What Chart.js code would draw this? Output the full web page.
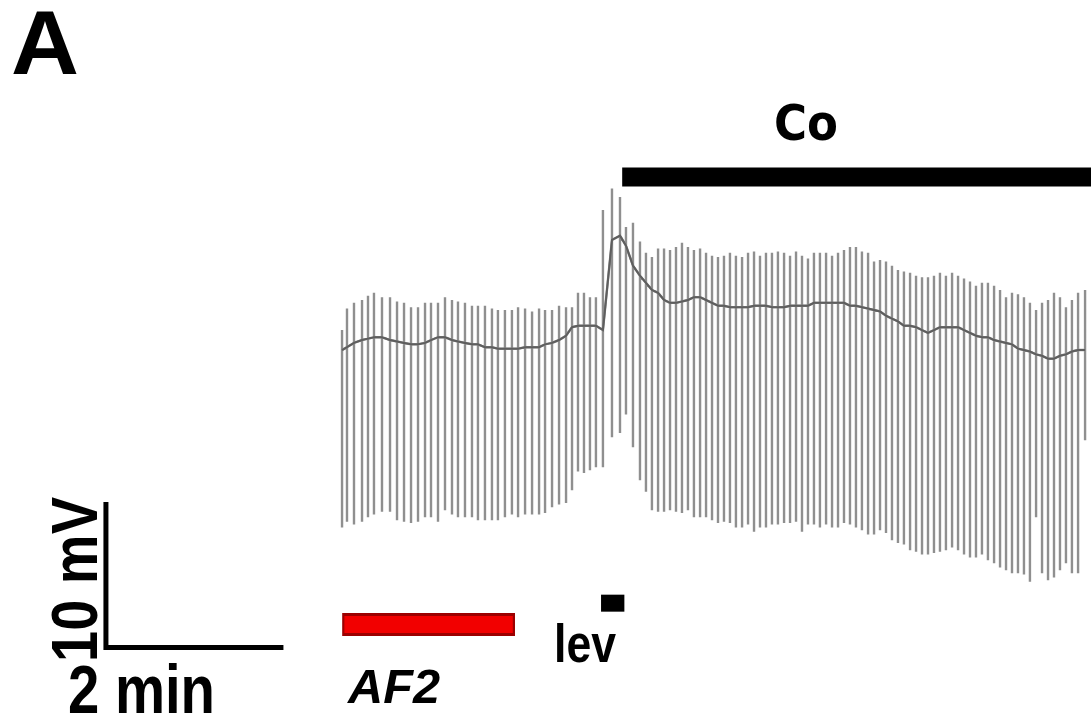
<!DOCTYPE html>
<html>
<head>
<meta charset="utf-8">
<title>AF2 / lev / Co membrane potential trace</title>
<script src="https://cdn.jsdelivr.net/npm/chart.js@4.4.0/dist/chart.umd.min.js"></script>
<style>
    html, body { margin: 0; padding: 0; background: #fff; }
    #wrap { position: relative; width: 1091px; height: 723px; }
</style>
</head>
<body>
<div id="wrap"><canvas id="trace" width="1091" height="723"></canvas></div>
<script>
/* Intracellular recording — AF2, lev, then Co */

// --- Data: time in s (0 = AF2 onset), membrane potential in mV ---

const spikeTimes = [
    1.4, 4.8, 9.6, 15.1, 19.2, 23.3, 28.8, 34.3, 39.1, 43.9,
    48.7, 53.5, 58.3, 62.4, 67.2, 72.0, 76.8, 80.9, 85.7, 90.5,
    94.6, 99.4, 104.2, 108.3, 113.1, 117.9, 122.1, 126.9, 131.7, 136.5,
    140.6, 145.4, 150.2, 155.0, 159.1, 163.2, 167.3, 171.4, 175.5, 180.3,
    186.5, 192.0, 196.1, 200.9, 205.7, 209.8, 213.9, 218.1, 222.2, 226.3,
    230.4, 234.5, 238.6, 242.7, 246.9, 251.0, 255.1, 259.2, 263.3, 267.4,
    271.5, 275.7, 279.8, 283.9, 288.0, 292.1, 296.2, 300.3, 304.5, 308.6,
    312.7, 316.8, 320.9, 325.0, 329.1, 333.3, 337.4, 341.5, 345.6, 349.7,
    353.8, 357.9, 362.1, 366.2, 370.3, 374.4, 378.5, 382.6, 386.7, 390.9,
    395.0, 399.1, 403.2, 407.3, 411.4, 415.5, 419.7, 423.8, 427.9, 432.0,
    436.1, 440.2, 444.3, 448.5, 452.6, 456.7, 460.8, 464.9, 469.0, 473.1,
    477.3, 481.4, 485.5, 489.6, 493.7, 497.8, 501.9, 506.1, 510.9
];

const spikePeaks = [
    -44.3, -42.8, -42.4, -42.2, -41.9, -41.7, -42.0, -42.0, -42.3, -42.4,
    -42.7, -42.7, -42.4, -42.4, -42.4, -42.0, -42.2, -42.3, -42.4, -42.6,
    -42.6, -42.6, -42.8, -42.9, -42.9, -42.9, -42.7, -42.8, -43.0, -42.8,
    -42.9, -42.9, -42.6, -42.7, -42.7, -41.7, -41.7, -42.0, -42.0, -35.9,
    -34.4, -35.0, -37.1, -36.8, -38.1, -38.9, -39.2, -38.6, -38.6, -38.7,
    -38.5, -38.2, -38.5, -38.7, -38.6, -38.9, -39.1, -39.2, -39.1, -38.9,
    -39.1, -39.2, -38.9, -38.8, -39.1, -38.9, -38.9, -38.8, -38.9, -39.1,
    -38.8, -39.1, -39.3, -38.9, -38.9, -38.9, -39.1, -38.9, -38.7, -38.5,
    -38.5, -38.8, -38.9, -39.5, -39.4, -39.5, -39.8, -40.1, -40.2, -40.3,
    -40.5, -40.6, -40.6, -40.5, -40.3, -40.5, -40.3, -40.5, -40.7, -40.9,
    -41.2, -41.0, -41.0, -41.2, -41.5, -42.0, -41.7, -41.8, -42.0, -42.4,
    -42.9, -42.4, -42.2, -41.7, -42.0, -42.7, -42.2, -41.7, -41.5
];

const spikeTroughs = [
    -58.1, -57.7, -57.9, -57.7, -57.4, -57.2, -57.0, -57.0, -57.6, -57.7,
    -57.8, -57.7, -57.4, -57.4, -57.7, -56.9, -57.2, -57.4, -57.4, -57.4,
    -57.6, -57.6, -57.6, -57.6, -57.4, -57.2, -57.4, -57.2, -57.2, -57.2,
    -57.1, -56.7, -56.5, -56.4, -55.5, -54.2, -54.3, -54.1, -53.9, -53.9,
    -51.8, -51.5, -50.2, -52.5, -54.8, -55.6, -56.9, -57.0, -57.0, -56.9,
    -57.0, -57.1, -56.9, -57.4, -57.4, -57.4, -57.6, -57.8, -57.7, -57.8,
    -58.1, -58.1, -57.9, -58.4, -58.1, -58.1, -57.9, -57.9, -57.8, -57.8,
    -57.7, -58.4, -57.9, -57.9, -58.1, -57.9, -58.1, -58.1, -57.8, -57.9,
    -58.1, -58.3, -58.6, -58.6, -58.3, -58.5, -59.0, -59.2, -59.3, -59.7,
    -59.8, -60.0, -60.0, -59.9, -59.8, -59.7, -59.5, -59.7, -60.0, -60.2,
    -60.2, -60.0, -60.4, -60.6, -60.9, -61.1, -61.3, -61.3, -61.4, -61.9,
    -57.4, -61.3, -61.8, -61.6, -61.1, -60.6, -61.3, -61.3, -52.0
];

const baseline = [
    -45.7, -45.5, -45.2, -45.0, -44.9, -44.8, -44.8, -45.0, -45.1, -45.2,
    -45.3, -45.3, -45.2, -45.0, -44.8, -44.8, -45.0, -45.1, -45.2, -45.3,
    -45.3, -45.5, -45.5, -45.6, -45.6, -45.6, -45.6, -45.5, -45.5, -45.5,
    -45.3, -45.2, -45.0, -44.7, -44.1, -44.0, -44.0, -44.0, -44.0, -44.3,
    -38.0, -37.7, -38.4, -39.8, -40.5, -41.0, -41.5, -41.7, -42.2, -42.4,
    -42.4, -42.3, -42.2, -42.0, -42.0, -42.2, -42.4, -42.6, -42.6, -42.7,
    -42.7, -42.7, -42.7, -42.6, -42.6, -42.6, -42.7, -42.7, -42.7, -42.6,
    -42.6, -42.6, -42.6, -42.4, -42.4, -42.4, -42.4, -42.4, -42.4, -42.6,
    -42.6, -42.7, -42.8, -42.9, -43.0, -43.3, -43.5, -43.7, -44.0, -44.0,
    -44.1, -44.3, -44.5, -44.3, -44.1, -44.1, -44.1, -44.1, -44.3, -44.5,
    -44.7, -44.8, -44.8, -45.0, -45.1, -45.2, -45.3, -45.6, -45.7, -45.8,
    -46.0, -46.1, -46.3, -46.3, -46.1, -46.0, -45.8, -45.7, -45.7
];

// drug applications, [start, end] in s
const af2Window = [1.5, 120];
const levWindow = [179, 195];
const coWindow = [193.5, 520];

// scale bars
const scaleBarSec = 120;
const scaleBarMv = 10;

// --- Layout ---

const view = { tMin: -233.14, tMax: 514.97, vMin: -71.78, vMax: -21.22 };
const scaleOrigin = { t: -160.5, v: -66.5 };
const af2Level = -64.9;
const levLevel = -63.4;
const coLevel = -33.6;

// --- Helpers ---

function hbar(win, level) {
    return [{ x: win[0], y: level }, { x: win[1], y: level }];
}

function drawFitted(ctx, text, x, y, font, width, angle) {
    ctx.save();
    ctx.font = font;
    const w = ctx.measureText(text).width;
    ctx.translate(x, y);
    if (angle) ctx.rotate(angle);
    ctx.scale(width / w, 1);
    ctx.fillStyle = '#000';
    ctx.textBaseline = 'alphabetic';
    ctx.fillText(text, 0, 0);
    ctx.restore();
}

const labels = [
    { text: 'A', x: 11, y: 74, font: 'bold 90px "Liberation Sans", Arial, sans-serif', w: 68 },
    { text: 'Co', x: 774, y: 140, font: 'bold 49px "DejaVu Sans", sans-serif', w: 64 },
    { text: '10 mV', x: 97, y: 662, font: 'bold 64px "Liberation Sans", Arial, sans-serif', w: 165, angle: -Math.PI / 2 },
    { text: '2 min', x: 68, y: 713, font: 'bold 68px "Liberation Sans", Arial, sans-serif', w: 147 },
    { text: 'AF2', x: 348, y: 703, font: 'italic bold 49px "Liberation Sans", Arial, sans-serif', w: 92 },
    { text: 'lev', x: 554, y: 662, font: 'bold 54px "Liberation Sans", Arial, sans-serif', w: 62 },
];

const labelPlugin = {
    id: 'figureLabels',
    afterDraw(chart) {
        const ctx = chart.ctx;
        labels.forEach(l => drawFitted(ctx, l.text, l.x, l.y, l.font, l.w, l.angle));
    }
};

// --- Build datasets ---

const tracePoints = [];
const basePoints = [];
spikeTimes.forEach((t, i) => {
    tracePoints.push(
        { x: t, y: baseline[i] },
        { x: t, y: spikePeaks[i] },
        { x: t, y: spikeTroughs[i] },
        { x: t, y: baseline[i] }
    );
    basePoints.push({ x: t, y: baseline[i] });
});

const scaleBar = [
    { x: scaleOrigin.t, y: scaleOrigin.v + scaleBarMv },
    { x: scaleOrigin.t, y: scaleOrigin.v },
    { x: scaleOrigin.t + scaleBarSec, y: scaleOrigin.v },
];

const lineDefaults = { pointRadius: 0, tension: 0, fill: false, clip: false, borderJoinStyle: 'miter' };

// lower "order" is painted on top
new Chart(document.getElementById('trace').getContext('2d'), {
    type: 'line',
    data: {
        datasets: [
            { ...lineDefaults, order: 9, data: tracePoints, borderColor: '#8f8f8f', borderWidth: 2.4 },
            { ...lineDefaults, order: 8, data: basePoints, borderColor: '#5e5e5e', borderWidth: 2 },
            { ...lineDefaults, order: 1, data: scaleBar, borderColor: '#000', borderWidth: 5, borderCapStyle: 'square' },
            { ...lineDefaults, order: 3, data: hbar(af2Window, af2Level), borderColor: '#9c0000', borderWidth: 23, borderCapStyle: 'butt' },
            { ...lineDefaults, order: 2, data: hbar([af2Window[0] + 1.5, af2Window[1] - 1.5], af2Level), borderColor: '#f20000', borderWidth: 17, borderCapStyle: 'butt' },
            { ...lineDefaults, order: 1, data: hbar(levWindow, levLevel), borderColor: '#000', borderWidth: 17, borderCapStyle: 'butt' },
            { ...lineDefaults, order: 1, data: hbar(coWindow, coLevel), borderColor: '#000', borderWidth: 19, borderCapStyle: 'butt' },
        ]
    },
    options: {
        responsive: false,
        animation: false,
        devicePixelRatio: 1,
        events: [],
        layout: { padding: 0 },
        plugins: { legend: { display: false }, tooltip: { enabled: false } },
        scales: {
            x: { type: 'linear', display: false, min: view.tMin, max: view.tMax },
            y: { type: 'linear', display: false, min: view.vMin, max: view.vMax },
        }
    },
    plugins: [labelPlugin]
});
</script>
</body>
</html>
